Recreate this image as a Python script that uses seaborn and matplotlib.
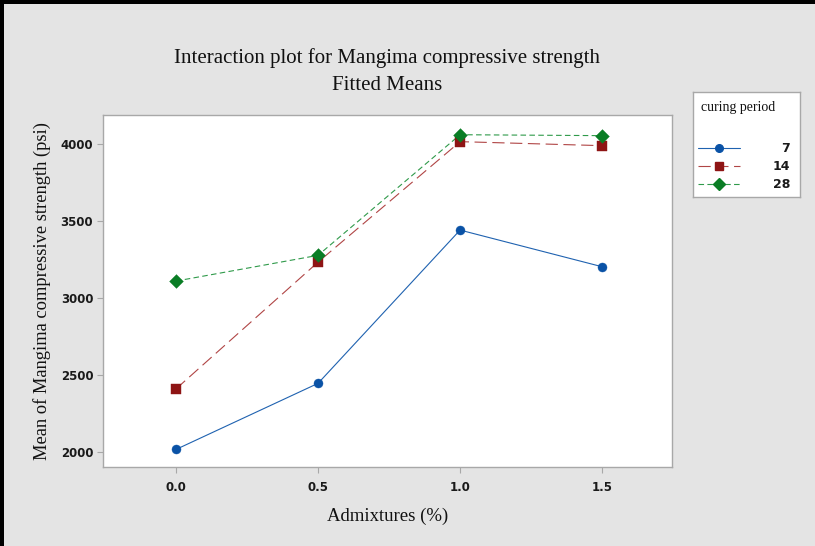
import numpy as np
import pandas as pd
import matplotlib
matplotlib.use("Agg")
import matplotlib.pyplot as plt
import seaborn as sns
from matplotlib.lines import Line2D
from matplotlib.patches import Rectangle

# ---- data ----
admixtures = [0.0, 0.5, 1.0, 1.5]
periods = ["7", "14", "28"]
strength_7 = [2017, 2446, 3441, 3203]
strength_14 = [2410, 3233, 4015, 3989]
strength_28 = [3110, 3277, 4060, 4054]
xticks = [0.0, 0.5, 1.0, 1.5]
yticks = [2000, 2500, 3000, 3500, 4000]

df = pd.DataFrame({
    "Admixtures": admixtures * 3,
    "Strength": strength_7 + strength_14 + strength_28,
    "Period": [periods[0]] * 4 + [periods[1]] * 4 + [periods[2]] * 4,
})

sns.set_theme(style="white")
plt.rcParams["font.family"] = ["DejaVu Sans"]

line_colors = {"7": "#1f62b0", "14": "#b04545", "28": "#2f9a4a"}
marker_colors = {"7": "#0a52a6", "14": "#8e1414", "28": "#0a7d25"}
markers = {"7": "o", "14": "s", "28": "D"}
msizes = {"7": 6.5, "14": 7, "28": 7}
leg_msizes = {"7": 5.5, "14": 6, "28": 6}
dashes = {"7": "", "14": (11, 5), "28": (5, 3)}

fig = plt.figure(figsize=(8.15, 5.46), dpi=100)
fig.patch.set_facecolor("#e4e4e4")
ax = fig.add_axes([103 / 815, 1 - 467 / 546, (672 - 103) / 815, (467 - 115) / 546])
ax.set_facecolor("white")

sns.lineplot(data=df, x="Admixtures", y="Strength", hue="Period", style="Period",
             palette=line_colors, dashes=dashes, markers=False, linewidth=0.8,
             legend=False, ax=ax)
for p in periods:
    sub = df[df["Period"] == p]
    sns.scatterplot(x=sub["Admixtures"], y=sub["Strength"], marker=markers[p],
                    color=marker_colors[p], s=msizes[p] ** 2, linewidth=0.3,
                    edgecolor=marker_colors[p], ax=ax, legend=False, zorder=5)

ax.set_xlim(-0.257, 1.746)
ax.set_ylim(1903, 4188)
ax.set_xticks(xticks)
ax.set_xticklabels([f"{v:.1f}" for v in xticks])
ax.set_yticks(yticks)
ax.set_yticklabels([str(v) for v in yticks])
for s in ax.spines.values():
    s.set_color("#a8a8a8")
    s.set_linewidth(1.0)
ax.tick_params(axis="both", which="major", direction="out", length=4, width=0.8,
               color="#a8a8a8", labelsize=8.5, labelcolor="#1a1a1a", pad=3,
               bottom=True, left=True)
for lab in ax.get_xticklabels() + ax.get_yticklabels():
    lab.set_fontweight("bold")
ax.xaxis.set_tick_params(pad=6)

ax.set_xlabel("Admixtures (%)", family="Liberation Serif", fontsize=13.5,
              color="#111111", labelpad=10)
ax.set_ylabel("Mean of Mangima compressive strength (psi)", family="Liberation Serif",
              fontsize=13.3, color="#111111", labelpad=7)

fig.text(387 / 815, 1 - 58 / 546, "Interaction plot for Mangima compressive strength",
         family="Liberation Serif", fontsize=15, ha="center", va="center", color="#111111")
fig.text(387 / 815, 1 - 85 / 546, "Fitted Means",
         family="Liberation Serif", fontsize=15, ha="center", va="center", color="#111111")

# ---- legend ----
lax = fig.add_axes([693 / 815, 1 - 197 / 546, (800 - 693) / 815, (197 - 92) / 546])
lax.set_xlim(693, 800)
lax.set_ylim(197, 92)
lax.set_xticks([])
lax.set_yticks([])
lax.set_facecolor("white")
for s in lax.spines.values():
    s.set_color("#a8a8a8")
    s.set_linewidth(1.0)
lax.text(701, 107, "curing period", family="Liberation Serif", fontsize=10,
         ha="left", va="center", color="#111111")
for i, p in enumerate(periods):
    yy = 148 + 18 * i
    lax.add_line(Line2D([698, 740], [yy, yy], color=line_colors[p], linewidth=0.8,
                        dashes=dashes[p] if dashes[p] else (None, None)))
    lax.add_line(Line2D([719], [yy], marker=markers[p], color=marker_colors[p],
                        markersize=leg_msizes[p], linestyle="none"))
    lax.text(790, yy, p, fontsize=9, fontweight="bold", ha="right", va="center",
             color="#1a1a1a")

# black frame on left and top
fig.patches.append(Rectangle((0, 0), 4 / 815, 1, transform=fig.transFigure,
                             facecolor="black", edgecolor="none"))
fig.patches.append(Rectangle((0, 1 - 4 / 546), 1, 4 / 546, transform=fig.transFigure,
                             facecolor="black", edgecolor="none"))

fig.savefig("out.png", dpi=100, facecolor=fig.get_facecolor())
